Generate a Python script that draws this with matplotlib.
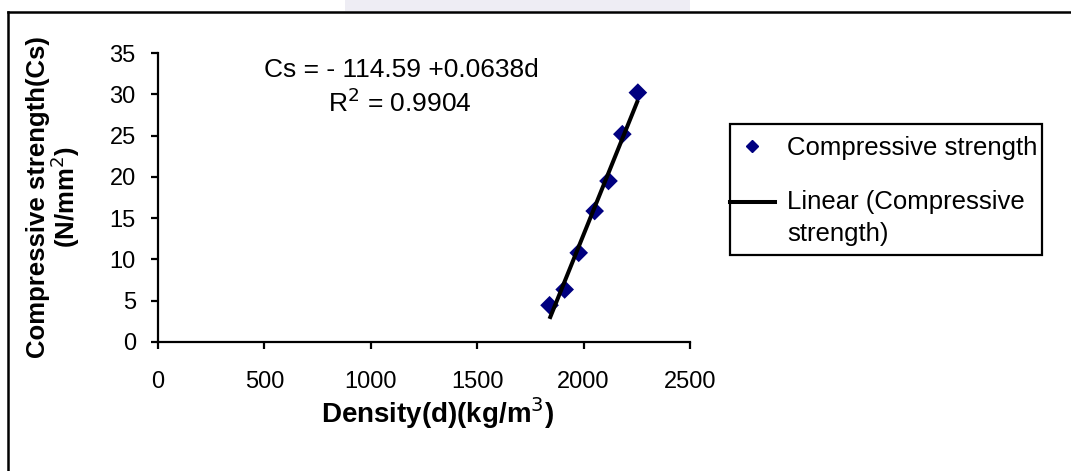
import matplotlib
matplotlib.use("Agg")
import matplotlib.pyplot as plt
from matplotlib.lines import Line2D
from matplotlib.patches import Rectangle
from matplotlib.legend_handler import HandlerLine2D
import matplotlib.transforms as mtransforms
import numpy as np

plt.rcParams['font.family'] = ['Liberation Sans', 'DejaVu Sans']

# Data
density = [1840, 1911, 1977, 2052, 2117, 2182, 2255]
strength = [4.45, 6.36, 10.8, 15.86, 19.5, 25.17, 30.2]
intercept = -114.59
slope = 0.0638
r_squared = 0.9904
x_ticks = [0, 500, 1000, 1500, 2000, 2500]
y_ticks = [0, 5, 10, 15, 20, 25, 30, 35]

W, H = 1071, 471
fig = plt.figure(figsize=(W / 100, H / 100), dpi=100)
fig.patch.set_facecolor('white')

def fx(px):
    return px / W

def fy(py):
    return 1 - py / H

ax = fig.add_axes([fx(158), fy(342), fx(690) - fx(158), fy(53) - fy(342)])
ax.set_xlim(0, 2500)
ax.set_ylim(0, 35)
ax.set_xticks(x_ticks)
ax.set_yticks(y_ticks)
for s in ['top', 'right']:
    ax.spines[s].set_visible(False)
for s in ['left', 'bottom']:
    ax.spines[s].set_linewidth(1.6)
    ax.spines[s].set_color('black')
ax.tick_params(axis='both', direction='out', length=5, width=1.6, labelsize=17, colors='black')
ax.tick_params(axis='x', pad=16)
ax.tick_params(axis='y', pad=11)

ax.scatter(density, strength, marker='D', s=9.5 ** 2, color='#000080', zorder=3,
           edgecolors='none', clip_on=False, label='Compressive strength')
xfit = np.array([min(density), max(density)])
ax.plot(xfit, intercept + slope * xfit, color='black', lw=2.9, zorder=4,
        solid_capstyle='butt')

ax.set_xlabel('Density(d)(kg/m$^{3}$)', fontsize=20, fontweight='bold')
ax.xaxis.set_label_coords(fx(437), fy(413), transform=fig.transFigure)
ax.xaxis.label.set_va('center')
ax.set_ylabel('Compressive strength(Cs)\n(N/mm$^{2}$)', fontsize=18.5, fontweight='bold',
              linespacing=0.93)
ax.yaxis.set_label_coords(fx(54), fy(197), transform=fig.transFigure)
ax.yaxis.label.set_va('center')
ax.yaxis.label.set_ha('center')

fig.text(fx(401), fy(70), f'Cs = - {abs(intercept):.2f} +{slope}d', fontsize=19,
         ha='center', va='center')
fig.text(fx(400), fy(103), f'R$^{{2}}$ = {r_squared}', fontsize=19,
         ha='center', va='center')


class UpHandler(HandlerLine2D):
    def __init__(self, dy, **kw):
        super().__init__(**kw)
        self.dy = dy

    def create_artists(self, legend, orig_handle, xdescent, ydescent, width, height,
                       fontsize, trans):
        t = mtransforms.Affine2D().translate(0, self.dy) + trans
        return super().create_artists(legend, orig_handle, xdescent, ydescent, width,
                                      height, fontsize, t)


# Legend
h_pts = Line2D([], [], marker='D', color='#000080', linestyle='none', markersize=6.5)
h_line = Line2D([], [], color='black', lw=2.9)
labels = ['Compressive strength', 'Linear (Compressive\nstrength)']
leg = fig.legend([h_pts, h_line], labels, loc='upper left',
                 bbox_to_anchor=(fx(730), fy(136)), fontsize=18.5, frameon=False,
                 borderpad=0, handlelength=1.75, handletextpad=0.47,
                 labelspacing=1.15, borderaxespad=0,
                 handler_map={h_line: UpHandler(12.0)})
leg.get_texts()[1].set_linespacing(1.45)
fig.add_artist(Rectangle((fx(730), fy(255)), fx(1042) - fx(730), fy(124) - fy(255),
                         transform=fig.transFigure, facecolor='none', edgecolor='black',
                         lw=1.6))

# Outer chart border (top and left edges visible)
fig.add_artist(Line2D([fx(8), fx(8)], [fy(12), fy(H + 5)], color='black', lw=1.8,
                      transform=fig.transFigure))
fig.add_artist(Line2D([fx(8), fx(W + 5)], [fy(12), fy(12)], color='black', lw=1.8,
                      transform=fig.transFigure))
# faint watermark band at the top
fig.add_artist(Rectangle((fx(345), fy(11)), fx(345), fy(0) - fy(11), transform=fig.transFigure,
                         facecolor='#eeedf4', edgecolor='none'))

fig.savefig('out.png', dpi=100)
